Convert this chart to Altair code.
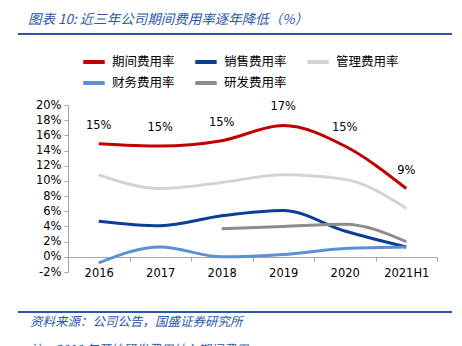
import altair as alt
import pandas as pd

years = ["2016", "2017", "2018", "2019", "2020", "2021H1"]
series_names = ["期间费用率", "销售费用率", "管理费用率", "财务费用率", "研发费用率"]
period = [14.9, 14.6, 15.3, 17.3, 14.6, 9.0]
sales = [4.7, 4.1, 5.4, 6.1, 3.4, 1.3]
admin = [10.8, 9.0, 9.8, 10.8, 10.2, 6.4]
finance = [-0.8, 1.3, 0.0, 0.3, 1.1, 1.3]
rnd = [None, None, 3.7, 4.0, 4.3, 2.0]
period_labels = ["15%", "15%", "15%", "17%", "15%", "9%"]
colors = ["#c00000", "#0b3f97", "#d3d3d3", "#5b8fd6", "#8c8c8c"]
y_ticks = [-2, 0, 2, 4, 6, 8, 10, 12, 14, 16, 18, 20]

title_text = "图表 10:  近三年公司期间费用率逐年降低（%）"
source_text = "资料来源：公司公告，国盛证券研究所"
note_text = "注：2018 年开始研发费用纳入期间费用"

rows = []
for name, vals in zip(series_names, [period, sales, admin, finance, rnd]):
    for y, v in zip(years, vals):
        if v is not None:
            rows.append({"year": y, "series": name, "value": v})
df = pd.DataFrame(rows)
lab_df = pd.DataFrame({"year": years, "value": period, "label": period_labels})
one = pd.DataFrame({"a": [0]})

W, H = 369, 167
xscale = alt.Scale(domain=years, paddingInner=0, paddingOuter=0)
xaxis = alt.Axis(title=None, offset=-15, tickBand="extent", domainColor="#a6a6a6",
                 tickColor="#a6a6a6", tickSize=4, labelPadding=6, labelAngle=0,
                 labelFont="DejaVu Sans", labelFontSize=11.5, labelColor="#000000")
yscale = alt.Scale(domain=[-2, 20], nice=False)
yaxis = alt.Axis(title=None, values=y_ticks, labelExpr="datum.value + '%'",
                 grid=False, domainColor="#a6a6a6", tickColor="#a6a6a6", tickSize=4,
                 labelPadding=3, labelFont="DejaVu Sans", labelFontSize=11.5,
                 labelColor="#000000", labelOverlap=False)

lines = alt.Chart(df).mark_line(strokeWidth=3, interpolate="monotone").encode(
    x=alt.X("year:N", sort=years, scale=xscale, axis=xaxis),
    y=alt.Y("value:Q", scale=yscale, axis=yaxis),
    color=alt.Color("series:N", scale=alt.Scale(domain=series_names, range=colors),
                    legend=alt.Legend(title=None, orient="none", legendX=13, legendY=-56,
                                      direction="horizontal", columns=3, symbolType="stroke",
                                      symbolSize=460, symbolStrokeWidth=4, labelOffset=5,
                                      columnPadding=12, rowPadding=-2, padding=0,
                                      labelFont="Noto Sans CJK SC", labelFontSize=12.5,
                                      labelColor="#000000")),
    detail="series:N",
)

labels = alt.Chart(lab_df).mark_text(dy=-18, font="DejaVu Sans", fontSize=11.5, color="#000000").encode(
    x=alt.X("year:N", sort=years, scale=xscale, axis=xaxis),
    y=alt.Y("value:Q", scale=yscale, axis=yaxis),
    text="label:N",
)

blue = "#2b58a8"
rule_top = alt.Chart(one).mark_rule(color=blue, strokeWidth=2).encode(
    x=alt.value(-50), x2=alt.value(384), y=alt.value(-71))
rule_bot = alt.Chart(one).mark_rule(color=blue, strokeWidth=2).encode(
    x=alt.value(-50), x2=alt.value(384), y=alt.value(207))
title = alt.Chart(one).mark_text(text=title_text, align="left", baseline="middle", font="Noto Sans CJK SC",
                                 fontSize=13.5, fontStyle="italic", color=blue).encode(
    x=alt.value(-40), y=alt.value(-85))
source = alt.Chart(one).mark_text(text=source_text, align="left", baseline="middle", font="Noto Sans CJK SC",
                                  fontSize=12.5, fontStyle="italic", color=blue).encode(
    x=alt.value(-38), y=alt.value(217))
note = alt.Chart(one).mark_text(text=note_text, align="left", baseline="middle", font="Noto Sans CJK SC",
                                fontSize=12.5, fontStyle="italic", color=blue).encode(
    x=alt.value(-38), y=alt.value(245))

chart = alt.layer(lines, labels, rule_top, rule_bot, title, source, note).properties(
    width=W, height=H,
    autosize=alt.AutoSizeParams(type="none"),
    padding={"left": 68, "top": 105, "right": 25, "bottom": 74},
).configure_view(stroke=None).configure_axis(labelOverlap=False)

chart.save("out.html", embed_options={"renderer": "svg", "actions": False})
